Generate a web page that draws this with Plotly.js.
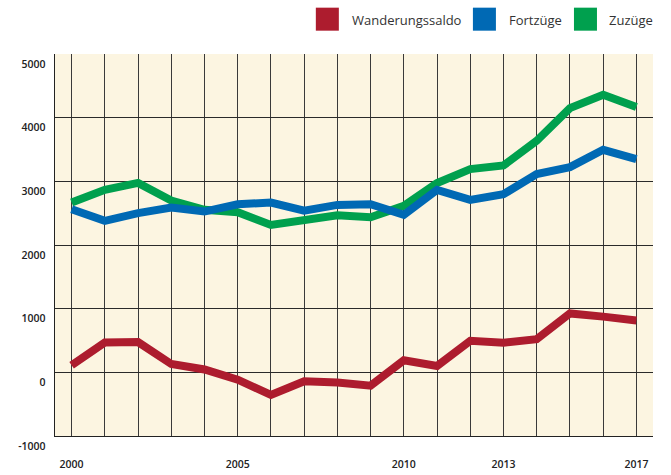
<!DOCTYPE html>
<html>
<head>
<meta charset="utf-8">
<script src="https://cdn.plot.ly/plotly-3.0.1.min.js"></script>
<style>html,body{margin:0;padding:0;background:#fff;}#chart{width:671px;height:475px;}</style>
</head>
<body>
<div id="chart"></div>
<script>
const years = [2000,2001,2002,2003,2004,2005,2006,2007,2008,2009,2010,2011,2012,2013,2014,2015,2016,2017];
const wanderungssaldo = [110,470,475,130,45,-115,-355,-140,-160,-210,190,100,495,465,520,925,875,815];
const fortzuege = [2563,2380,2500,2590,2525,2640,2667,2540,2630,2640,2473,2866,2709,2798,3113,3223,3495,3349];
const zuzuege = [2667,2867,2975,2698,2552,2515,2316,2395,2468,2437,2615,2972,3192,3249,3637,4151,4360,4167];
const seriesNames = ['Wanderungssaldo','Fortzüge','Zuzüge'];
const seriesColors = ['#ad1c2e','#0069b4','#00a04e'];
const xLabelYears = [2000,2005,2010,2013,2017];
const yTicks = [-1000,0,1000,2000,3000,4000,5000];

const W = 671, H = 475;
const plotL = 55.3, plotR = 653, plotT = 54.3, plotB = 436;
const px = x => (x - plotL) / (plotR - plotL);
const py = y => (plotB - y) / (plotB - plotT);

const traces = [
  {x: years, y: wanderungssaldo, name: seriesNames[0], color: seriesColors[0]},
  {x: years, y: zuzuege, name: seriesNames[2], color: seriesColors[2]},
  {x: years, y: fortzuege, name: seriesNames[1], color: seriesColors[1]}
].map(t => ({
  type: 'scatter', mode: 'lines', x: t.x, y: t.y, name: t.name,
  line: {color: t.color, width: 8}, showlegend: false, hoverinfo: 'skip'
}));

// manual legend (squares + labels)
const legendItems = [
  {sq: [316, 339], tx: 350},
  {sq: [473, 496], tx: 507},
  {sq: [574, 597], tx: 607}
];
const shapes = [];
const annotations = [];
legendItems.forEach((it, i) => {
  shapes.push({type: 'rect', xref: 'paper', yref: 'paper',
    x0: px(it.sq[0]), x1: px(it.sq[1]), y0: py(31), y1: py(8),
    fillcolor: seriesColors[i], line: {width: 0}});
  annotations.push({xref: 'paper', yref: 'paper', x: px(it.tx), y: py(20),
    xanchor: 'left', yanchor: 'middle', showarrow: false, text: seriesNames[i],
    font: {family: 'Open Sans, Noto Sans, sans-serif', size: 13, color: '#333'}});
});

const tickFont = {size: 10.5, color: '#222', family: 'Open Sans, Noto Sans, sans-serif', weight: 600};

const layout = {
  width: W, height: H,
  margin: {l: plotL, r: W - plotR, t: plotT, b: H - plotB, pad: 0},
  paper_bgcolor: '#ffffff',
  plot_bgcolor: '#fcf5e1',
  showlegend: false,
  hovermode: false,
  font: {family: 'Open Sans, Noto Sans, sans-serif', color: '#222'},
  xaxis: {
    range: [1999.5, 2017.5],
    tickmode: 'array',
    tickvals: years,
    ticktext: years.map(y => xLabelYears.includes(y) ? String(y) : ''),
    showgrid: true, gridcolor: '#3a3a3a', gridwidth: 1,
    zeroline: false, showline: true, linecolor: '#222', linewidth: 1.3,
    ticks: '', ticklabelstandoff: 18,
    tickfont: tickFont,
    fixedrange: true
  },
  yaxis: {
    range: [-1000, 5000],
    tickmode: 'array',
    tickvals: yTicks,
    ticktext: yTicks.map(v => String(v)),
    showgrid: true, gridcolor: '#2a2a2a', gridwidth: 1,
    zeroline: true, zerolinecolor: '#2a2a2a', zerolinewidth: 1,
    showline: true, linecolor: '#222', linewidth: 1.3,
    ticks: '', ticklabelshift: 10, ticklabelstandoff: 6,
    tickfont: tickFont,
    fixedrange: true
  },
  shapes: shapes,
  annotations: annotations
};

Plotly.newPlot('chart', traces, layout, {displayModeBar: false, staticPlot: true});
</script>
</body>
</html>
